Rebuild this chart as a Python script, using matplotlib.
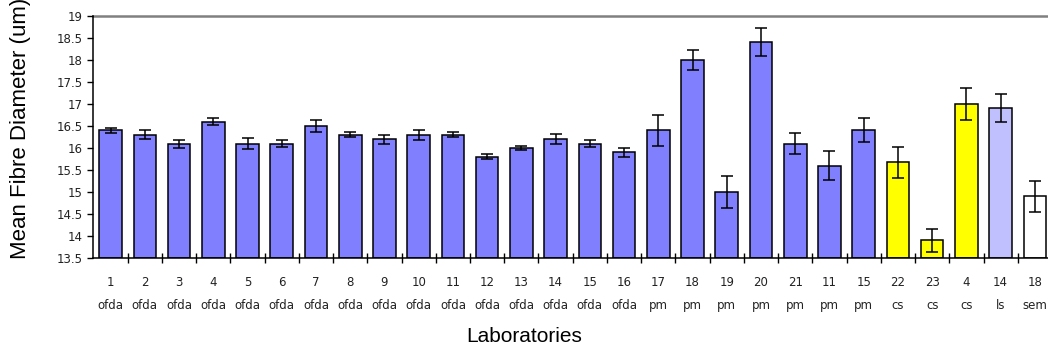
import matplotlib
matplotlib.use("Agg")
import matplotlib.pyplot as plt
import numpy as np

# Mean fibre diameter per laboratory, grouped by measurement method
labs = ["1", "2", "3", "4", "5", "6", "7", "8", "9", "10", "11", "12", "13", "14",
        "15", "16", "17", "18", "19", "20", "21", "11", "15", "22", "23", "4", "14", "18"]
methods = ["ofda", "ofda", "ofda", "ofda", "ofda", "ofda", "ofda", "ofda", "ofda", "ofda",
           "ofda", "ofda", "ofda", "ofda", "ofda", "ofda", "pm", "pm", "pm", "pm", "pm",
           "pm", "pm", "cs", "cs", "cs", "ls", "sem"]
means = [16.4, 16.3, 16.1, 16.6, 16.1, 16.1, 16.5, 16.3, 16.2, 16.3, 16.3, 15.8, 16.0, 16.2,
         16.1, 15.9, 16.4, 18.0, 15.0, 18.4, 16.1, 15.6, 16.4, 15.67, 13.9, 17.0, 16.9, 14.9]
errs = [0.05, 0.1, 0.09, 0.07, 0.13, 0.08, 0.14, 0.06, 0.1, 0.11, 0.06, 0.06, 0.04, 0.12,
        0.08, 0.11, 0.36, 0.22, 0.36, 0.32, 0.23, 0.32, 0.27, 0.35, 0.27, 0.36, 0.32, 0.36]

METHOD_COLORS = {"ofda": "#8080FF", "pm": "#8080FF", "cs": "#FFFF00",
                 "ls": "#C0C0FF", "sem": "#FFFFFF"}
YMIN, YMAX = 13.5, 19.0

fig = plt.figure(figsize=(10.48, 3.51), dpi=100, facecolor="white")
ax = fig.add_axes([0.0892, 0.265, 0.9146, 0.6895])

x = np.arange(len(labs))
colors = [METHOD_COLORS[m] for m in methods]
heights = [v - YMIN for v in means]
ax.bar(x, heights, bottom=YMIN, width=0.66, color=colors, edgecolor="black",
       linewidth=1.1, zorder=2)
ax.errorbar(x, means, yerr=errs, fmt="none", ecolor="black", elinewidth=1.1,
            capsize=4, capthick=1.1, zorder=3)

ax.set_xlim(-0.5, len(labs) - 0.5)
ax.set_ylim(YMIN, YMAX)
ax.axhline(YMAX, color="#808080", linewidth=1.8, zorder=1, clip_on=False)

# spines: left and bottom only
for side in ("top", "right"):
    ax.spines[side].set_visible(False)
ax.spines["left"].set_linewidth(1.1)
ax.spines["bottom"].set_linewidth(1.1)

ax.set_yticks(np.arange(13.5, 19.01, 0.5))
ax.set_yticklabels([f"{v:g}" for v in np.arange(13.5, 19.01, 0.5)])
ax.tick_params(axis="y", direction="out", length=4, width=1, pad=4,
               labelsize=8.5, labelcolor="#222222")

ax.set_xticks(x)
ax.set_xticklabels([f"{a}\n{m}" for a, m in zip(labs, methods)])
ax.set_xticks(np.arange(0.5, len(labs) - 1, 1.0), minor=True)
ax.tick_params(axis="x", which="major", length=0, pad=13, labelsize=8.5,
               labelcolor="#222222")
ax.tick_params(axis="x", which="minor", direction="inout", length=7, width=1)
for lbl in ax.get_xticklabels():
    lbl.set_linespacing(2.0)
    lbl.set_family("DejaVu Sans")
for lbl in ax.get_yticklabels():
    lbl.set_family("DejaVu Sans")

fig.text(0.5, 1 - 337 / 351, "Laboratories", ha="center", va="center",
         fontsize=15, family="Liberation Sans")
fig.text(21 / 1048, 1 - 259 / 351, "Mean Fibre Diameter (um)", rotation=90,
         ha="center", va="bottom", fontsize=16, family="Liberation Sans")

fig.savefig("out.png", dpi=100, facecolor="white")
